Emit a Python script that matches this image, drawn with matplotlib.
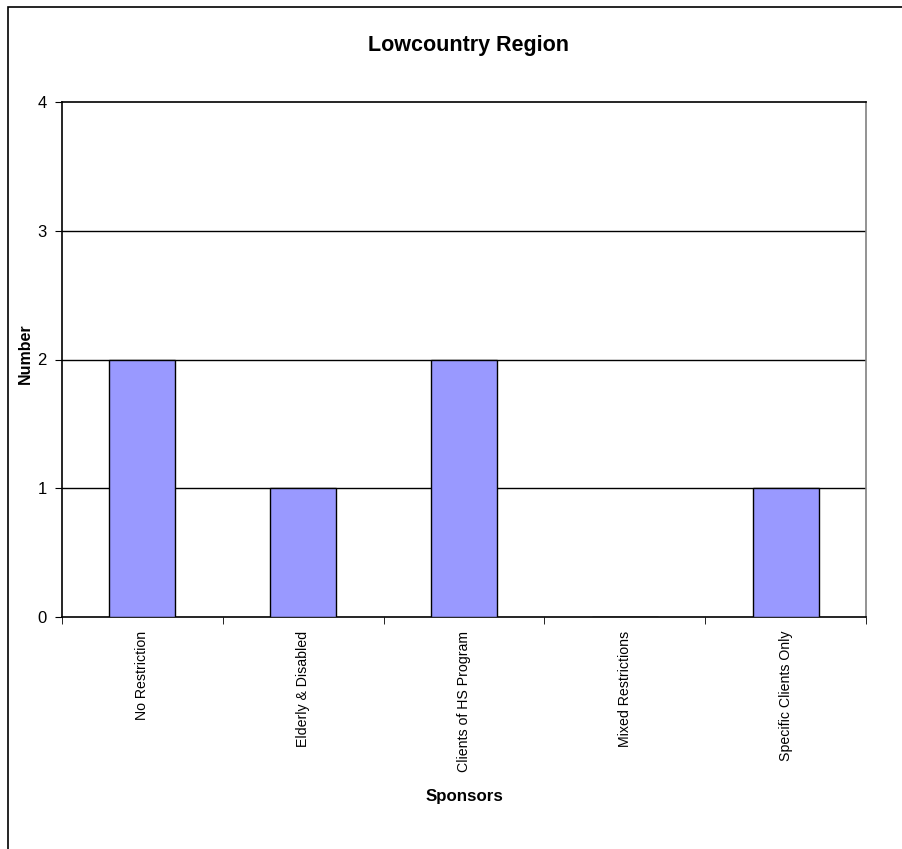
import matplotlib
matplotlib.use('Agg')
import matplotlib.pyplot as plt
from matplotlib.patches import Rectangle

categories = ['No Restriction', 'Elderly & Disabled', 'Clients of HS Program',
              'Mixed Restrictions', 'Specific Clients Only']
counts = [2, 1, 2, 0, 1]
y_ticks = [0, 1, 2, 3, 4]

plt.rcParams['font.family'] = ['Liberation Sans', 'DejaVu Sans']

fig = plt.figure(figsize=(9.02, 8.49), dpi=100)
ax = fig.add_axes([62 / 902, 1 - 617 / 849, (866 - 62) / 902, (617 - 102) / 849])

x = list(range(len(categories)))
ax.bar(x, counts, width=0.41, color='#9999FF', edgecolor='black', linewidth=1, zorder=3)

ax.set_xlim(-0.5, len(categories) - 0.5)
ax.set_ylim(0, 4)
ax.set_yticks(y_ticks)
ax.set_yticklabels([str(v) for v in y_ticks], fontsize=12)
for v in y_ticks[1:-1]:
    ax.axhline(v, color='black', linewidth=1, zorder=1)

# category labels at centres, tick marks on the boundaries
ax.set_xticks(x)
ax.set_xticklabels(categories, rotation=90, fontsize=10.2, va='top')
ax.tick_params(axis='x', which='major', length=0, pad=10)
ax.set_xticks([i - 0.5 for i in range(len(categories) + 1)], minor=True)
ax.tick_params(axis='x', which='minor', length=5, direction='out', color='black')
ax.tick_params(axis='y', length=5, direction='out', pad=6)

for side in ['left', 'bottom', 'top']:
    ax.spines[side].set_color('black')
    ax.spines[side].set_linewidth(1.2)
ax.spines['right'].set_color('#808080')
ax.spines['right'].set_linewidth(1.2)

ax.set_xlabel('Sponsors', fontsize=12.2, fontweight='bold', labelpad=12)
fig.text(25 / 902, 1 - 354 / 849, 'Number', fontsize=11.5, fontweight='bold',
         rotation=90, ha='center', va='center')
fig.text(469 / 902, 1 - 45 / 849, 'Lowcountry Region', fontsize=15.5, fontweight='bold',
         ha='center', va='center')

# outer chart frame
fig.patches.append(Rectangle((8 / 902, -0.1), 2, (849 - 7) / 849 + 0.1,
                             transform=fig.transFigure, fill=False,
                             edgecolor='black', linewidth=1.2))

fig.savefig('out.png', dpi=100)
